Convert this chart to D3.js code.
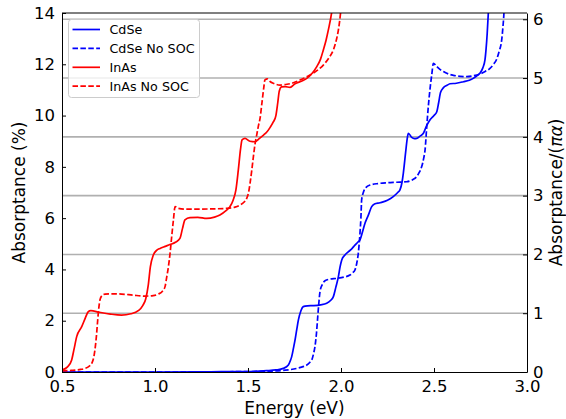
<!DOCTYPE html>
<html>
<head>
<meta charset="utf-8">
<script src="https://cdn.jsdelivr.net/npm/d3@7"></script>
<style>
  body { margin: 0; background: #fff; }
  text { font-family: "DejaVu Sans", sans-serif; fill: #000; }
</style>
</head>
<body>
<div id="canvas"></div>
<script>
"use strict"

/* energy (eV), absorptance (%) pairs */
let cdse = [[0.5,0.0],[1.0,0.0],[1.3,0.01],[1.5,0.02],[1.6,0.05],[1.65,0.08],[1.69,0.14],[1.717,0.27],[1.728,0.45],
  [1.735,0.6],[1.745,0.95],[1.753,1.25],[1.762,1.65],[1.771,2.03],[1.785,2.4],[1.797,2.55],[1.82,2.58],[1.851,2.59],
  [1.89,2.62],[1.923,2.68],[1.945,2.8],[1.959,2.94],[1.972,3.3],[1.986,3.72],[1.995,4.1],[2.004,4.37],[2.02,4.55],
  [2.04,4.69],[2.06,4.82],[2.075,4.95],[2.09,5.06],[2.102,5.15],[2.115,5.45],[2.129,5.8],[2.147,6.12],[2.165,6.45],
  [2.18,6.55],[2.21,6.6],[2.25,6.7],[2.281,6.84],[2.305,7.0],[2.317,7.1],[2.328,7.4],[2.335,7.75],[2.348,8.6],
  [2.357,9.15],[2.362,9.31],[2.38,9.15],[2.395,9.1],[2.407,9.11],[2.425,9.2],[2.443,9.31],[2.46,9.6],[2.478,9.83],
  [2.5,10.0],[2.515,10.15],[2.525,10.5],[2.535,10.9],[2.55,11.08],[2.57,11.18],[2.586,11.24],[2.62,11.26],
  [2.658,11.32],[2.69,11.38],[2.711,11.45],[2.73,11.55],[2.747,11.65],[2.762,11.85],[2.774,12.17],[2.78,12.6],
  [2.786,13.2],[2.792,13.99],[2.796,14.6]];

let cdseNoSoc = [[0.5,0.0],[1.0,0.0],[1.4,0.01],[1.6,0.03],[1.7,0.07],[1.762,0.14],[1.8,0.22],[1.816,0.27],[1.833,0.38],
  [1.843,0.47],[1.852,0.7],[1.86,0.99],[1.868,1.5],[1.875,2.16],[1.881,2.7],[1.887,3.13],[1.9,3.42],[1.914,3.56],
  [1.94,3.62],[1.977,3.65],[2.015,3.7],[2.048,3.78],[2.063,3.87],[2.075,3.98],[2.085,4.25],[2.093,4.63],[2.102,5.41],
  [2.107,6.0],[2.111,6.71],[2.12,7.0],[2.135,7.2],[2.156,7.29],[2.2,7.35],[2.245,7.38],[2.3,7.4],[2.353,7.42],
  [2.385,7.5],[2.407,7.62],[2.422,7.8],[2.434,8.01],[2.445,8.35],[2.452,8.66],[2.461,9.57],[2.47,10.4],[2.478,11.0],
  [2.488,11.6],[2.497,12.04],[2.51,11.95],[2.532,11.8],[2.56,11.68],[2.586,11.6],[2.604,11.57],[2.64,11.53],
  [2.676,11.52],[2.71,11.55],[2.747,11.62],[2.775,11.72],[2.801,11.84],[2.82,12.0],[2.837,12.2],[2.85,12.5],
  [2.864,12.95],[2.87,13.4],[2.876,13.99],[2.88,14.6]];

let inas = [[0.5,0.08],[0.53,0.2],[0.552,0.47],[0.565,0.9],[0.579,1.38],[0.606,1.77],[0.625,2.1],[0.641,2.35],
  [0.655,2.39],[0.7,2.33],[0.76,2.26],[0.82,2.22],[0.87,2.27],[0.91,2.39],[0.935,2.6],[0.95,2.85],[0.964,3.4],
  [0.975,4.1],[0.991,4.56],[1.01,4.75],[1.027,4.82],[1.055,4.9],[1.08,4.97],[1.11,5.06],[1.134,5.21],[1.148,5.6],
  [1.161,5.93],[1.188,6.02],[1.23,6.03],[1.278,5.99],[1.32,6.04],[1.349,6.12],[1.38,6.28],[1.403,6.45],[1.42,6.7],
  [1.435,7.1],[1.448,7.88],[1.46,8.7],[1.468,9.05],[1.484,9.11],[1.51,9.0],[1.538,8.98],[1.56,9.1],[1.585,9.25],
  [1.6,9.35],[1.62,9.55],[1.636,9.75],[1.65,10.0],[1.66,10.5],[1.668,10.95],[1.68,11.12],[1.7,11.13],[1.726,11.1],
  [1.753,11.24],[1.79,11.35],[1.816,11.45],[1.845,11.65],[1.869,11.9],[1.89,12.2],[1.905,12.56],[1.92,12.95],
  [1.932,13.34],[1.95,14.03],[1.96,14.6]];

let inasNoSoc = [[0.5,0.04],[0.55,0.06],[0.6,0.1],[0.624,0.14],[0.645,0.22],[0.66,0.34],[0.67,0.55],[0.677,0.86],
  [0.685,1.4],[0.692,2.03],[0.698,2.5],[0.704,2.81],[0.715,2.98],[0.731,3.04],[0.78,3.05],[0.82,3.04],[0.88,3.0],
  [0.946,2.96],[0.99,2.98],[1.018,3.04],[1.04,3.15],[1.054,3.33],[1.063,3.7],[1.072,4.1],[1.081,4.63],[1.09,5.3],
  [1.099,5.93],[1.108,6.45],[1.125,6.38],[1.16,6.35],[1.206,6.35],[1.3,6.36],[1.385,6.38],[1.43,6.43],[1.457,6.51],
  [1.478,6.62],[1.493,6.77],[1.503,7.0],[1.511,7.36],[1.52,7.85],[1.529,8.4],[1.538,8.9],[1.547,9.25],[1.556,9.6],
  [1.565,9.9],[1.575,10.5],[1.585,11.1],[1.591,11.39],[1.605,11.43],[1.62,11.32],[1.636,11.26],[1.672,11.19],
  [1.71,11.22],[1.744,11.28],[1.79,11.42],[1.833,11.58],[1.87,11.75],[1.905,11.97],[1.935,12.25],[1.959,12.56],
  [1.975,12.95],[1.986,13.34],[1.998,14.03],[2.005,14.6]];

let seriesNames = ["CdSe", "CdSe No SOC", "InAs", "InAs No SOC"];
let seriesData = [cdse, cdseNoSoc, inas, inasNoSoc];
let seriesColors = ["#0000ff", "#0000ff", "#ff0000", "#ff0000"];
let seriesDashed = [false, true, false, true];

let xTicks = [0.5, 1.0, 1.5, 2.0, 2.5, 3.0];
let yTicks = [0, 2, 4, 6, 8, 10, 12, 14];
let y2Ticks = [0, 1, 2, 3, 4, 5, 6];

/* pi * fine structure constant, in percent */
let piAlpha = 100 * Math.PI / 137.036;

let W = 566, H = 419;
let plotLeft = 62, plotRight = 527, plotTop = 13, plotBottom = 372;

let drawing = d3.select("#canvas")
  .append("svg")
  .attr("width", W)
  .attr("height", H);

let x = d3.scaleLinear().domain([0.5, 3.0]).range([plotLeft, plotRight]);
let y = d3.scaleLinear().domain([0, 14]).range([plotBottom, plotTop]);
let y2 = d3.scaleLinear().domain([0, 14 / piAlpha]).range([plotBottom, plotTop]);

/* grid on the right axis ticks */
drawing.append("g")
  .selectAll("line")
  .data(y2Ticks.slice(1))
  .join("line")
  .attr("x1", plotLeft).attr("x2", plotRight)
  .attr("y1", d => y2(d)).attr("y2", d => y2(d))
  .attr("stroke", "#b0b0b0")
  .attr("stroke-width", 1.6);

drawing.append("clipPath")
  .attr("id", "plotclip")
  .append("rect")
  .attr("x", plotLeft).attr("y", plotTop)
  .attr("width", plotRight - plotLeft).attr("height", plotBottom - plotTop);

let line = d3.line()
  .x(d => x(d[0]))
  .y(d => y(d[1]))
  .curve(d3.curveMonotoneX);

let curves = drawing.append("g").attr("clip-path", "url(#plotclip)");
seriesData.forEach((s, i) => {
  curves.append("path")
    .attr("d", line(s))
    .attr("fill", "none")
    .attr("stroke", seriesColors[i])
    .attr("stroke-width", 1.7)
    .attr("stroke-dasharray", seriesDashed[i] ? "5.5,2.4" : null);
});

/* axes, ticks inward */
let xAxis = drawing.append("g")
  .attr("transform", `translate(0,${plotBottom})`)
  .call(d3.axisBottom(x).tickValues(xTicks).tickFormat(d3.format(".1f")).tickSizeInner(-4).tickSizeOuter(0).tickPadding(8));

let yAxis = drawing.append("g")
  .attr("transform", `translate(${plotLeft},0)`)
  .call(d3.axisLeft(y).tickValues(yTicks).tickFormat(d3.format("d")).tickSizeInner(-4).tickSizeOuter(0).tickPadding(7));

let y2Axis = drawing.append("g")
  .attr("transform", `translate(${plotRight},0)`)
  .call(d3.axisRight(y2).tickValues(y2Ticks).tickFormat(d3.format("d")).tickSizeInner(-4).tickSizeOuter(0).tickPadding(6));

[xAxis, yAxis, y2Axis].forEach(a => {
  a.selectAll("text").attr("font-size", 16.5).attr("font-family", "DejaVu Sans");
  a.selectAll("line").attr("stroke", "#000");
  a.select(".domain").attr("stroke", "#000");
});

let topSpine = drawing.append("line")
  .attr("x1", plotLeft).attr("x2", plotRight)
  .attr("y1", plotTop).attr("y2", plotTop)
  .attr("stroke", "#000");

/* axis labels */
drawing.append("text")
  .attr("x", (plotLeft + plotRight) / 2).attr("y", 414)
  .attr("text-anchor", "middle")
  .attr("font-size", 17)
  .text("Energy (eV)");

drawing.append("text")
  .attr("transform", `translate(25,${(plotTop + plotBottom) / 2}) rotate(-90)`)
  .attr("text-anchor", "middle")
  .attr("font-size", 17)
  .text("Absorptance (%)");

let rightLabel = drawing.append("text")
  .attr("transform", `translate(562,${(plotTop + plotBottom) / 2}) rotate(-90)`)
  .attr("text-anchor", "middle")
  .attr("font-size", 17);
rightLabel.append("tspan").text("Absorptance/(");
rightLabel.append("tspan").attr("font-style", "italic").text("πα");
rightLabel.append("tspan").text(")");

/* legend */
let legend = drawing.append("g").attr("transform", "translate(68.5,19.5)");
legend.append("rect")
  .attr("width", 131).attr("height", 78)
  .attr("rx", 3)
  .attr("fill", "#fff").attr("fill-opacity", 0.8)
  .attr("stroke", "#cccccc");

seriesNames.forEach((name, i) => {
  let rowY = 10 + i * 18.9;
  legend.append("line")
    .attr("x1", 4).attr("x2", 31.5)
    .attr("y1", rowY).attr("y2", rowY)
    .attr("stroke", seriesColors[i])
    .attr("stroke-width", 1.7)
    .attr("stroke-dasharray", seriesDashed[i] ? "5.5,2.4" : null);
  legend.append("text")
    .attr("x", 41).attr("y", rowY + 4.5)
    .attr("font-size", 12.7)
    .text(name);
});
</script>
</body>
</html>
